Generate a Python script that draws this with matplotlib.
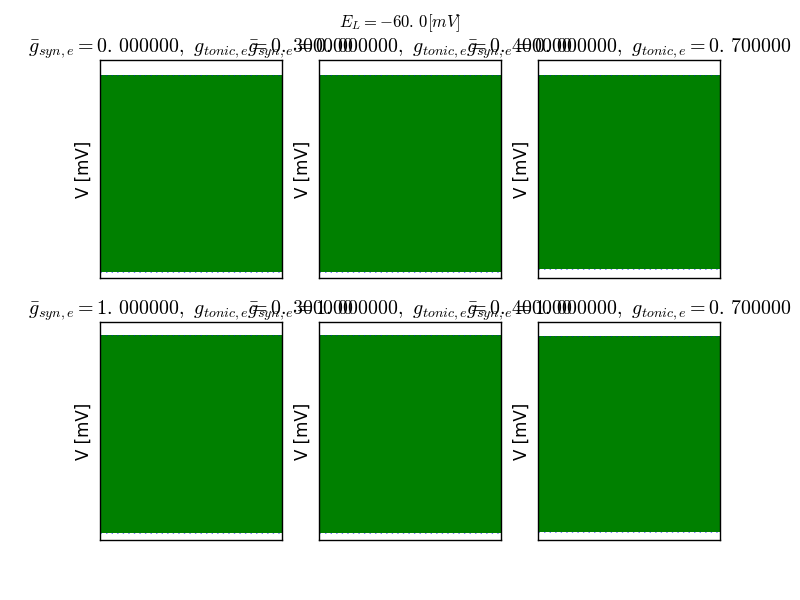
import matplotlib
matplotlib.use('Agg')
import matplotlib.pyplot as plt

# simulation time [ms] (start, end of the traces)
t = [0.0, 1000.0]

g_syn = [0.0, 0.0, 0.0, 1.0, 1.0, 1.0]
g_tonic = [0.3, 0.4, 0.7, 0.3, 0.4, 0.7]

# upper / lower envelope of the spiking voltage traces [mV]
v_top = [32.0, 32.0, 31.7, 32.5, 32.5, 32.2]
v_bottom = [-76.5, -76.5, -75.2, -76.0, -76.0, -75.6]

E_L = -60.0


def num(v, fmt='%f'):
    # old mathtext put a gap after the decimal point
    return (fmt % v).replace('.', r'.\,')


def main():
    plt.style.use('classic')
    fig = plt.figure(figsize=(8, 6), dpi=100)

    for i in range(6):
        ax = fig.add_subplot(2, 3, i + 1)
        hi = [v_top[i], v_top[i]]
        lo = [v_bottom[i], v_bottom[i]]
        ax.plot(t, hi, 'b:', linewidth=0.6, alpha=0.6)
        ax.plot(t, lo, 'b:', linewidth=0.6, alpha=0.6)
        ax.fill_between(t, lo, hi, color='g', linewidth=0)
        ax.set_xlim(t[0], t[1])
        ax.set_ylim(-80, 40)
        ax.set_xticks([])
        ax.set_yticks([])
        ax.set_ylabel('V [mV]')
        ax.set_title(r'$\bar{g}_{syn,e} = %s,\ g_{tonic,e} = %s$'
                     % (num(g_syn[i]), num(g_tonic[i])))

    fig.suptitle(r'$E_L = %s [mV]$' % num(E_L, '%.1f'))
    fig.savefig('out.png', dpi=100)


if __name__ == "__main__":
    main()
